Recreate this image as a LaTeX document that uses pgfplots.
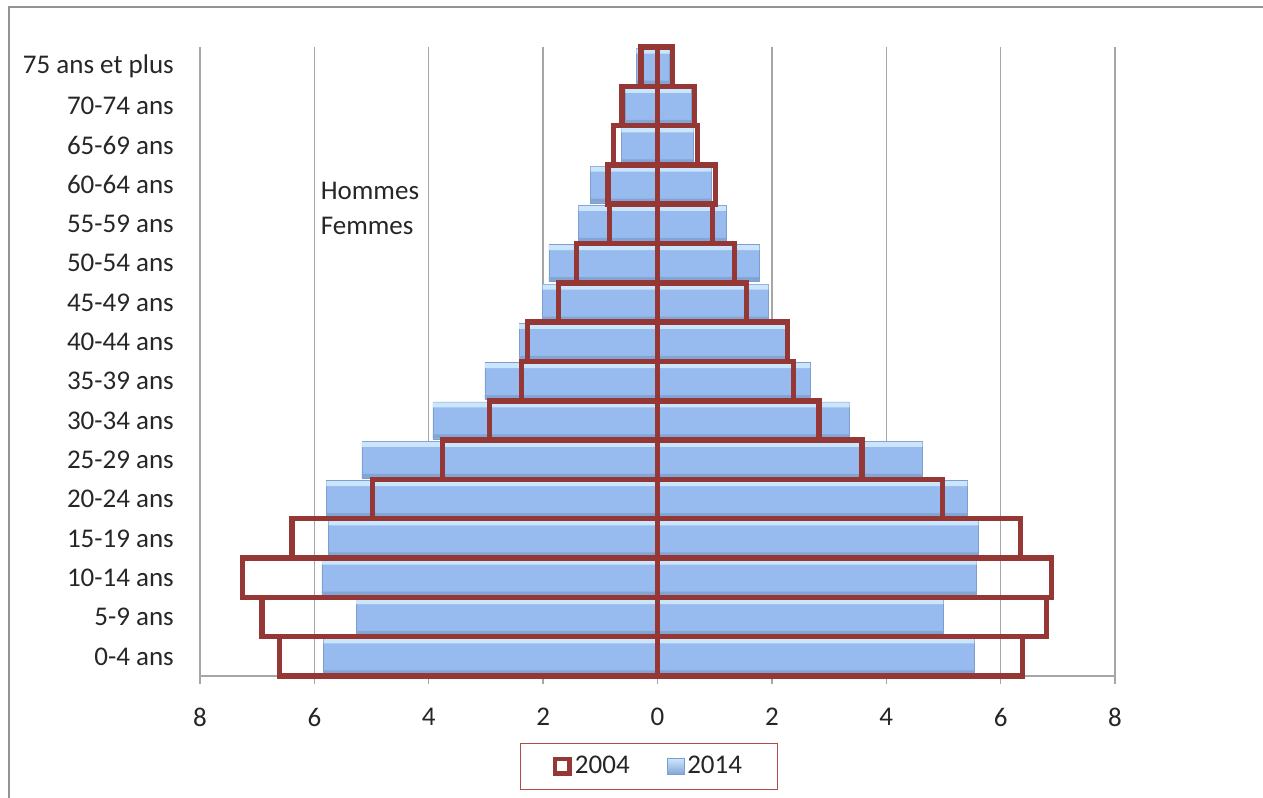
\documentclass[border=0pt]{standalone}
\usepackage{pgfplots}
\usepackage{pgfplotstable}
\pgfplotsset{compat=1.18}
\usepackage{fontspec}
\setmainfont{Carlito}
\definecolor{rouge}{HTML}{953735}
\definecolor{legred}{HTML}{B24B48}
\definecolor{bleu}{HTML}{97BBEE}
\definecolor{bleuhaut}{HTML}{CBE6FC}
\definecolor{bleubas}{HTML}{82A5D6}
\definecolor{bleubord}{HTML}{7D9DCC}
\definecolor{grille}{HTML}{A6A6A6}
% columns: category index, hommes 2014, femmes 2014, hommes 2004, femmes 2004
\pgfplotstableread{
y   h14    f14   h04    f04
0   -5.84  5.54  -6.61  6.38
1   -5.27  5.00  -6.92  6.80
2   -5.87  5.58  -7.26  6.89
3   -5.75  5.61  -6.39  6.35
4   -5.79  5.42  -4.98  4.98
5   -5.17  4.63  -3.76  3.58
6   -3.93  3.36  -2.94  2.82
7   -3.02  2.67  -2.38  2.38
8   -2.42  2.24  -2.27  2.27
9   -2.01  1.94  -1.73  1.56
10  -1.90  1.78  -1.42  1.35
11  -1.38  1.20  -0.84  0.96
12  -1.17  0.94  -0.87  1.01
13  -0.63  0.63  -0.77  0.70
14  -0.56  0.59  -0.62  0.65
15  -0.37  0.21  -0.29  0.26
}\pyramide
\begin{document}
\fontsize{27bp}{32bp}\selectfont
\begin{tikzpicture}
\useasboundingbox (0bp,0bp) rectangle (1263bp,798bp);
\draw[color=gray!85, line width=2.5bp] (9bp,-2bp) -- (9bp,791bp) -- (1265bp,791bp);
\begin{axis}[
  at={(200bp,122bp)}, anchor=south west,
  scale only axis, width=915bp, height=629bp,
  xmin=-8, xmax=8, ymin=-0.5, ymax=15.5,
  xtick={-8,-6,-4,-2,0,2,4,6,8},
  xticklabels={8,6,4,2,0,2,4,6,8},
  ytick={0,...,15},
  yticklabels={0-4 ans,5-9 ans,10-14 ans,15-19 ans,20-24 ans,25-29 ans,30-34 ans,35-39 ans,40-44 ans,45-49 ans,50-54 ans,55-59 ans,60-64 ans,65-69 ans,70-74 ans,75 ans et plus},
  axis x line*=bottom, axis y line*=left,
  x axis line style={draw=grille, line width=1.3bp, -},
  y axis line style={draw=none},
  xmajorgrids, major grid style={draw=grille, line width=1.3bp},
  tick align=outside, major tick length=8bp,
  xtick style={draw=grille, line width=1.3bp},
  ytick style={draw=none},
  /pgf/number format/assume math mode=true,
  tick label style={font=\fontsize{27bp}{32bp}\selectfont, text=black!85},
  xticklabel style={inner sep=0pt, yshift=-24bp},
  yticklabel style={inner sep=0pt, anchor=east, xshift=-18bp},
  legend style={at={(0.4907,-0.1439)}, anchor=center, draw=legred, line width=1bp,
    font=\fontsize{27bp}{32bp}\selectfont, inner xsep=32bp, inner ysep=9bp,
    nodes={inner sep=3bp, text=black!85},
    /tikz/every even column/.append style={column sep=34bp}},
  legend columns=2,
  clip=false,
]
% 2014 (blue bars with bevel bands)
\pgfplotsinvokeforeach{h14,f14}{
\addplot[xbar, bar shift=0pt, bar width=37bp, fill=bleu, draw=bleubord, line width=0.5bp, forget plot]
  table[x=#1, y=y] {\pyramide};
\addplot[xbar, bar shift=15.5bp, bar width=5bp, fill=bleuhaut, draw=none, forget plot]
  table[x=#1, y=y] {\pyramide};
\addplot[xbar, bar shift=-16bp, bar width=4bp, fill=bleubas, draw=none, forget plot]
  table[x=#1, y=y] {\pyramide};
}
% 2004 (red outlines)
\addplot[xbar, bar shift=0pt, bar width=1.0, draw=rouge, line width=5.5bp, fill=none,
  legend image code/.code={\draw[draw=rouge, line width=4.5bp, fill=white] (0bp,-7bp) rectangle (14.5bp,7.5bp);}]
  table[x=h04, y=y] {\pyramide};
\addlegendentry{2004}
\addplot[xbar, bar shift=0pt, bar width=1.0, draw=rouge, line width=5.5bp, fill=none, forget plot]
  table[x=f04, y=y] {\pyramide};
\addlegendimage{legend image code/.code={\draw[draw=bleubord, line width=0.6bp, shading=axis, top color=bleuhaut, middle color=bleu, bottom color=bleubas] (0bp,-8bp) rectangle (17bp,8bp);}}
\addlegendentry{2014}
\node[anchor=west, inner sep=0pt, text=black!85] at (axis cs:-5.89,11.85) {Hommes};
\node[anchor=west, inner sep=0pt, text=black!85] at (axis cs:-5.89,10.94) {Femmes};
\end{axis}
\end{tikzpicture}
\end{document}
